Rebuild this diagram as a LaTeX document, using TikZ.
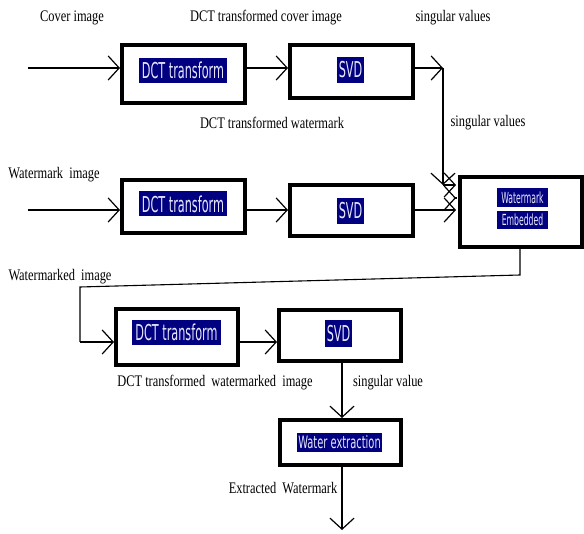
\documentclass[tikz,border=0pt]{standalone}
\usepackage{fontspec}
\usetikzlibrary{arrows.meta}
\setmainfont{Liberation Serif}
\newfontfamily\boxfont{DejaVu Sans Condensed}
\definecolor{hlnavy}{HTML}{000080}
\definecolor{hltext}{HTML}{E6E6FA}
\newcommand{\lbltxt}[1]{\scalebox{1}[1.3]{#1}}
\newcommand{\boxtxt}[1]{\scalebox{1}[1.75]{#1}}
\tikzset{
  blk/.style={draw, line width=4pt, fill=white, inner sep=0pt},
  hl/.style={fill=hlnavy, text=hltext, inner sep=0pt, font=\boxfont\fontsize{12.5}{14}\selectfont},
  hlsmall/.style={fill=hlnavy, text=hltext, inner sep=0pt, font=\boxfont\fontsize{9}{10}\selectfont},
  lbl/.style={inner sep=0pt, font=\fontsize{12.4}{14}\selectfont},
  tipbarb/.tip={Straight Barb[length=11pt,width=24pt,line width=1.2pt]},
  conn/.style={line width=1.1pt, -tipbarb},
  plain/.style={line width=1.1pt}
}
\begin{document}
\begin{tikzpicture}[x=1pt,y=-1pt]
\useasboundingbox (0,0) rectangle (584,534);
% boxes
\node[blk, minimum width=123pt, minimum height=58pt] (dct1) at (183.5,74) {};
\node[blk, minimum width=123pt, minimum height=53pt] (svd1) at (351.5,71.5) {};
\node[blk, minimum width=123pt, minimum height=53pt] (dct2) at (183.5,206.5) {};
\node[blk, minimum width=123pt, minimum height=51pt] (svd2) at (351.5,210.5) {};
\node[blk, minimum width=122pt, minimum height=70pt] (emb) at (521,212) {};
\node[blk, minimum width=122pt, minimum height=56pt] (dct3) at (177,337) {};
\node[blk, minimum width=122pt, minimum height=51pt] (svd3) at (340,335.5) {};
\node[blk, minimum width=121pt, minimum height=45pt] (wat) at (340.5,442.5) {};
% highlighted box texts
\node[hl, minimum width=88pt, minimum height=25pt] (t1) at (183,70.5) {\boxtxt{DCT transform}};
\node[hl, minimum width=27pt, minimum height=26pt] (t2) at (350.5,70) {\boxtxt{SVD}};
\node[hl, minimum width=88pt, minimum height=25pt] (t3) at (183,204) {\boxtxt{DCT transform}};
\node[hl, minimum width=27pt, minimum height=26pt] (t4) at (350.5,211) {\boxtxt{SVD}};
\node[hlsmall, minimum width=51pt, minimum height=19pt] (t5) at (522.5,197.5) {\scalebox{0.95}[1.7]{Watermark}};
\node[hlsmall, minimum width=51pt, minimum height=18pt] (t6) at (522.5,220) {\scalebox{0.95}[1.7]{Embedded}};
\node[hl, minimum width=89pt, minimum height=25pt] (t7) at (176.5,332.5) {\boxtxt{DCT transform}};
\node[hl, minimum width=27pt, minimum height=27pt] (t8) at (338.5,333.5) {\boxtxt{SVD}};
\node[hlsmall, font=\boxfont\fontsize{11}{12}\selectfont, minimum width=85pt, minimum height=19pt] (t9) at (339.5,442.5) {\scalebox{1}[1.55]{Water extraction}};
% labels
\node[lbl] (l1) at (72,18) {\lbltxt{Cover image}};
\node[lbl] (l2) at (266,18) {\lbltxt{DCT transformed cover image}};
\node[lbl] (l3) at (453,18) {\lbltxt{singular values}};
\node[lbl] (l4) at (272,123) {\lbltxt{DCT transformed watermark}};
\node[lbl] (l5) at (488,123) {\lbltxt{singular values}};
\node[lbl] (l6) at (54,175) {\lbltxt{Watermark\ \ image}};
\node[lbl] (l7) at (60,277) {\lbltxt{Watermarked\ \ image}};
\node[lbl] (l8) at (215,383) {\lbltxt{DCT transformed\ \ watermarked\ \ image}};
\node[lbl] (l9) at (388,383) {\lbltxt{singular value}};
\node[lbl] (l10) at (283,488) {\lbltxt{Extracted\ \ Watermark}};
% coordinates
\coordinate (in1) at (28,68);
\coordinate (in2) at (28,210);
\coordinate (c1) at (443,68);
\coordinate (c2) at (443,185);
\coordinate (b1) at (520,275);
\coordinate (b2) at (80,287);
\coordinate (b3) at (80,342);
\coordinate (out) at (342,530);
\coordinate (sv3) at (342,0);
\coordinate (stray) at (444,198);
% connectors row 1
\draw[conn] (in1) -- (dct1.west |- in1);
\draw[conn] (dct1.east |- in1) -- (svd1.west |- in1);
\draw[conn] (svd1.east |- in1) -- (c1);
\draw[conn] (c1) -- (c2);
\draw[conn] (c2) -- ([xshift=-2pt]emb.west |- c2);
\draw[conn, shorten <=13pt] (stray) -- ([xshift=-2pt]emb.west |- stray);
% row 2
\draw[conn] (in2) -- (dct2.west |- in2);
\draw[conn] (dct2.east |- in2) -- (svd2.west |- in2);
\draw[conn] (svd2.east |- in2) -- ([xshift=-2pt]emb.west |- in2);
% feedback to row 3
\draw[plain] (emb.south -| b1) -- (b1) -- (b2) -- (b3);
\draw[conn] (b3) -- (dct3.west |- b3);
\draw[conn] (dct3.east |- b3) -- (svd3.west |- b3);
\draw[conn] (svd3.south -| sv3) -- (wat.north -| sv3);
\draw[conn] (wat.south -| sv3) -- (out);
\end{tikzpicture}
\end{document}
